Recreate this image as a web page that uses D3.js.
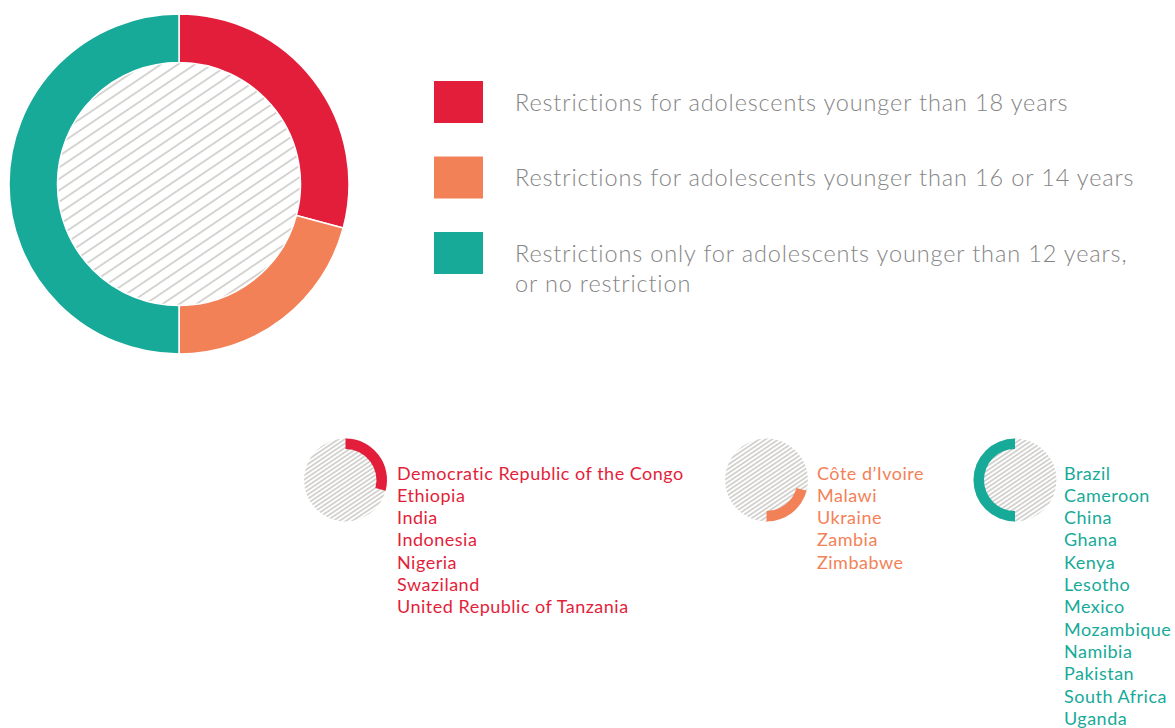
<!DOCTYPE html>
<html>
<head>
    <title>Restrictions by age</title>
    <style>
        html, body {
            margin: 0;
            background: #fff;
        }
        svg text {
            font-family: Lato, "Open Sans", sans-serif;
            font-weight: 300;
        }
        svg text.country {
            font-weight: 400;
        }
    </style>
    <script src="https://d3js.org/d3.v7.min.js"></script>
</head>
<body>
    <svg id="chart"></svg>
    <script>
        // categories, shown in the legend (lines of each label)
        const categoryLabels = [
            ["Restrictions for adolescents younger than 18 years"],
            ["Restrictions for adolescents younger than 16 or 14 years"],
            ["Restrictions only for adolescents younger than 12 years,", "or no restriction"]
        ];
        const colors = ["#e31e3a", "#f38158", "#17aa99"];

        // countries in each category
        const countries18 = ["Democratic Republic of the Congo", "Ethiopia", "India", "Indonesia",
            "Nigeria", "Swaziland", "United Republic of Tanzania"];
        const countries16 = ["Côte d\u2019Ivoire", "Malawi", "Ukraine", "Zambia", "Zimbabwe"];
        const countries12 = ["Brazil", "Cameroon", "China", "Ghana", "Kenya", "Lesotho", "Mexico",
            "Mozambique", "Namibia", "Pakistan", "South Africa", "Uganda"];
        const countryLists = [countries18, countries16, countries12];
        const counts = countryLists.map(d => d.length);

        const width = 1175, height = 728;
        const svg = d3.select("#chart")
            .attr("width", width)
            .attr("height", height);

        // hatch patterns
        const defs = svg.append("defs");
        function hatch(id, gap, stroke, sw) {
            const p = defs.append("pattern")
                .attr("id", id)
                .attr("patternUnits", "userSpaceOnUse")
                .attr("width", 20)
                .attr("height", gap)
                .attr("patternTransform", "rotate(-34)");
            p.append("line")
                .attr("x1", 0).attr("x2", 20)
                .attr("y1", gap / 2).attr("y2", gap / 2)
                .attr("stroke", stroke)
                .attr("stroke-width", sw);
        }
        hatch("hatchBig", 9.5, "#bdbab5", 1.2);
        hatch("hatchSmall", 3.6, "#b5b3ae", 1.1);

        const pie = d3.pie().sort(null).value(d => d);
        const arcsData = pie(counts);

        // main donut
        const main = svg.append("g").attr("transform", "translate(179,184)");
        main.append("circle").attr("r", 121.5).attr("fill", "url(#hatchBig)");
        const bigArc = d3.arc().innerRadius(121.5).outerRadius(170);
        main.selectAll("path")
            .data(arcsData)
            .enter()
            .append("path")
            .attr("d", bigArc)
            .attr("fill", (d, i) => colors[i])
            .attr("stroke", "#fff")
            .attr("stroke-width", 1.5);

        // legend
        const legendY = d3.scalePoint().domain(d3.range(categoryLabels.length)).range([102, 253]);
        const legend = svg.selectAll(".legend")
            .data(categoryLabels)
            .enter()
            .append("g")
            .attr("class", "legend")
            .attr("transform", (d, i) => "translate(0," + legendY(i) + ")");
        legend.append("rect")
            .attr("x", 434).attr("y", -21)
            .attr("width", 49).attr("height", 42)
            .attr("fill", (d, i) => colors[i]);
        legend.each(function(lines) {
            const t = d3.select(this).append("text")
                .attr("x", 515).attr("y", 8.5)
                .attr("font-size", "23.5px")
                .attr("letter-spacing", "0.86px")
                .attr("fill", "#858585");
            lines.forEach((l, j) => {
                t.append("tspan").attr("x", 515).attr("dy", j === 0 ? 0 : 30).text(l);
            });
        });

        // small donuts with country lists
        const smallX = [345.5, 766.5, 1015];
        const textX = [397, 817, 1064];
        const smallArc = d3.arc().innerRadius(31).outerRadius(41.5);
        const rowY = d3.scaleLinear().domain([0, 1]).range([479.5, 501.8]);
        arcsData.forEach((a, i) => {
            const g = svg.append("g").attr("transform", "translate(" + smallX[i] + ",480)");
            g.append("circle").attr("r", 41.5).attr("fill", "url(#hatchSmall)");
            g.append("path")
                .attr("d", smallArc(a))
                .attr("fill", colors[i]);
            svg.append("g")
                .selectAll("text")
                .data(countryLists[i])
                .enter()
                .append("text")
                .attr("class", "country")
                .attr("x", textX[i])
                .attr("y", (d, j) => rowY(j))
                .attr("font-size", "18px")
                .attr("letter-spacing", "0.5px")
                .attr("fill", colors[i])
                .text(d => d);
        });
    </script>
</body>
</html>
